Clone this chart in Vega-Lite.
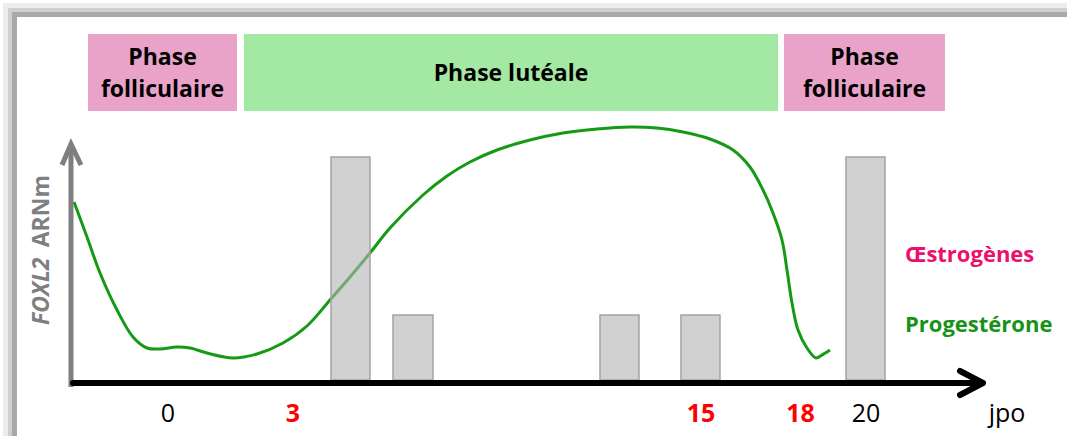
{
  "$schema": "https://vega.github.io/schema/vega-lite/v6.json",
  "width": 1067,
  "height": 436,
  "autosize": {"type": "fit", "contains": "padding"},
  "padding": 0,
  "background": "white",
  "config": {"view": {"stroke": null}, "font": "Open Sans"},
  "resolve": {"scale": {"color": "independent"}},
  "datasets": {
    "frame": [
      {"band": "outer", "left": -5.512, "right": -5.365, "bottom": -27, "top": 189.5},
      {"band": "outer", "left": -5.512, "right": 25.8, "bottom": 187, "top": 189.5},
      {"band": "middle", "left": -5.365, "right": -5.247, "bottom": -27, "top": 187},
      {"band": "middle", "left": -5.365, "right": 25.8, "bottom": 185, "top": 187},
      {"band": "inner", "left": -5.247, "right": -5.1, "bottom": -27, "top": 185},
      {"band": "inner", "left": -5.247, "right": 25.8, "bottom": 182.5, "top": 185}
    ],
    "phases": [
      {"phase": "Phase folliculaire", "kind": "folliculaire", "start": -3.01, "end": 1.374, "top": 174, "bottom": 135.5},
      {"phase": "Phase lutéale", "kind": "lutéale", "start": 1.58, "end": 17.295, "top": 174, "bottom": 135.5},
      {"phase": "Phase folliculaire", "kind": "folliculaire", "start": 17.472, "end": 22.209, "top": 174, "bottom": 135.5}
    ],
    "phaseLabels": [
      {"text": "Phase", "jpo": -0.818, "level": 158.5},
      {"text": "folliculaire", "jpo": -0.818, "level": 142.5},
      {"text": "Phase lutéale", "jpo": 9.438, "level": 150.5},
      {"text": "Phase", "jpo": 19.841, "level": 158.5},
      {"text": "folliculaire", "jpo": 19.841, "level": 142.5}
    ],
    "bars": [
      {"bar": "a", "start": 4.141, "end": 5.288, "level": 112.5},
      {"bar": "b", "start": 5.965, "end": 7.142, "level": 33.5},
      {"bar": "c", "start": 12.057, "end": 13.205, "level": 33.5},
      {"bar": "d", "start": 14.44, "end": 15.588, "level": 33.5},
      {"bar": "e", "start": 19.296, "end": 20.444, "level": 112.5}
    ],
    "curve": [
      {"jpo": -3.422, "foxl2": 90},
      {"jpo": -3.04, "foxl2": 72.5},
      {"jpo": -2.657, "foxl2": 54.5},
      {"jpo": -2.157, "foxl2": 36},
      {"jpo": -1.686, "foxl2": 22.5},
      {"jpo": -1.274, "foxl2": 17},
      {"jpo": -0.892, "foxl2": 16.5},
      {"jpo": -0.391, "foxl2": 17.5},
      {"jpo": -0.009, "foxl2": 17},
      {"jpo": 0.492, "foxl2": 14.5},
      {"jpo": 1.257, "foxl2": 12},
      {"jpo": 1.963, "foxl2": 14},
      {"jpo": 2.728, "foxl2": 19.5},
      {"jpo": 3.434, "foxl2": 28},
      {"jpo": 4.111, "foxl2": 41},
      {"jpo": 4.7, "foxl2": 52.5},
      {"jpo": 5.288, "foxl2": 64.5},
      {"jpo": 5.877, "foxl2": 77},
      {"jpo": 6.848, "foxl2": 93.5},
      {"jpo": 7.554, "foxl2": 103},
      {"jpo": 8.231, "foxl2": 110},
      {"jpo": 9.026, "foxl2": 116},
      {"jpo": 9.997, "foxl2": 121},
      {"jpo": 10.968, "foxl2": 124.5},
      {"jpo": 11.969, "foxl2": 126.5},
      {"jpo": 12.94, "foxl2": 127.5},
      {"jpo": 13.734, "foxl2": 127},
      {"jpo": 14.499, "foxl2": 125},
      {"jpo": 15.294, "foxl2": 121.5},
      {"jpo": 15.971, "foxl2": 116},
      {"jpo": 16.471, "foxl2": 107.5},
      {"jpo": 16.854, "foxl2": 96},
      {"jpo": 17.148, "foxl2": 84.5},
      {"jpo": 17.413, "foxl2": 71},
      {"jpo": 17.56, "foxl2": 56},
      {"jpo": 17.707, "foxl2": 39.5},
      {"jpo": 17.884, "foxl2": 26},
      {"jpo": 18.148, "foxl2": 17},
      {"jpo": 18.413, "foxl2": 12},
      {"jpo": 18.59, "foxl2": 13.5},
      {"jpo": 18.825, "foxl2": 16}
    ],
    "axes": [
      {"axis": "ordinate", "part": "shaft", "step": 0, "jpo": -3.511, "level": -2.5},
      {"axis": "ordinate", "part": "shaft", "step": 1, "jpo": -3.511, "level": 118},
      {"axis": "ordinate", "part": "head", "step": 0, "jpo": -3.775, "level": 108.5},
      {"axis": "ordinate", "part": "head", "step": 1, "jpo": -3.511, "level": 119},
      {"axis": "ordinate", "part": "head", "step": 2, "jpo": -3.216, "level": 108.5},
      {"axis": "abscissa", "part": "shaft", "step": 0, "jpo": -3.452, "level": -0.5},
      {"axis": "abscissa", "part": "shaft", "step": 1, "jpo": 23.24, "level": -0.5},
      {"axis": "abscissa", "part": "head", "step": 0, "jpo": 22.651, "level": 5.5},
      {"axis": "abscissa", "part": "head", "step": 1, "jpo": 23.328, "level": -0.5},
      {"axis": "abscissa", "part": "head", "step": 2, "jpo": 22.651, "level": -6.5}
    ],
    "ticks": [
      {"label": "0", "jpo": -0.656, "level": -20, "highlight": "no"},
      {"label": "3", "jpo": 3.022, "level": -20, "highlight": "yes"},
      {"label": "15", "jpo": 15.029, "level": -20, "highlight": "yes"},
      {"label": "18", "jpo": 17.957, "level": -20, "highlight": "yes"},
      {"label": "20", "jpo": 19.885, "level": -20, "highlight": "no"},
      {"label": "jpo", "jpo": 24.034, "level": -20, "highlight": "no"}
    ],
    "legend": [
      {"hormone": "Œstrogènes", "jpo": 21.032, "level": 60},
      {"hormone": "Progestérone", "jpo": 21.032, "level": 25}
    ],
    "ylabel": [
      {"part": "FOXL2", "jpo": -4.364, "level": 28.5},
      {"part": "ARNm", "jpo": -4.364, "level": 103.5}
    ]
  },
  "layer": [
    {
      "data": {"name": "frame"},
      "mark": {"type": "rect"},
      "encoding": {
        "x": {"field": "left", "type": "quantitative", "scale": {"domain": [-5.6, 25.8], "nice": false, "zero": false}, "axis": null},
        "x2": {"field": "right"},
        "y": {"field": "bottom", "type": "quantitative", "scale": {"domain": [-27, 191], "nice": false, "zero": false}, "axis": null},
        "y2": {"field": "top"},
        "color": {"field": "band", "type": "nominal", "scale": {"domain": ["outer", "middle", "inner"], "range": ["#ececec", "#cfcfcf", "#a8a8a8"]}, "legend": null}
      }
    },
    {
      "data": {"name": "phases"},
      "mark": {"type": "rect"},
      "encoding": {
        "x": {"field": "start", "type": "quantitative", "scale": {"domain": [-5.6, 25.8], "nice": false, "zero": false}, "axis": null},
        "x2": {"field": "end"},
        "y": {"field": "bottom", "type": "quantitative", "scale": {"domain": [-27, 191], "nice": false, "zero": false}, "axis": null},
        "y2": {"field": "top"},
        "color": {"field": "kind", "type": "nominal", "scale": {"domain": ["folliculaire", "lutéale"], "range": ["#eaa3c8", "#a3e9a4"]}, "legend": null}
      }
    },
    {
      "data": {"name": "phaseLabels"},
      "mark": {"type": "text", "font": "Open Sans", "fontWeight": "bold", "fontSize": 23, "align": "center", "baseline": "alphabetic", "color": "#000000"},
      "encoding": {
        "x": {"field": "jpo", "type": "quantitative", "scale": {"domain": [-5.6, 25.8], "nice": false, "zero": false}, "axis": null},
        "y": {"field": "level", "type": "quantitative", "scale": {"domain": [-27, 191], "nice": false, "zero": false}, "axis": null},
        "text": {"field": "text"}
      }
    },
    {
      "data": {"name": "curve"},
      "mark": {"type": "line", "interpolate": "catmull-rom", "color": "#169a16", "strokeWidth": 3},
      "encoding": {
        "x": {"field": "jpo", "type": "quantitative", "scale": {"domain": [-5.6, 25.8], "nice": false, "zero": false}, "axis": null},
        "y": {"field": "foxl2", "type": "quantitative", "scale": {"domain": [-27, 191], "nice": false, "zero": false}, "axis": null}
      }
    },
    {
      "data": {"name": "bars"},
      "mark": {"type": "rect", "fill": "#b3b3b3", "fillOpacity": 0.6, "stroke": "#a3a3a3", "strokeWidth": 1.5},
      "encoding": {
        "x": {"field": "start", "type": "quantitative", "scale": {"domain": [-5.6, 25.8], "nice": false, "zero": false}, "axis": null},
        "x2": {"field": "end"},
        "y": {"field": "level", "type": "quantitative", "scale": {"domain": [-27, 191], "nice": false, "zero": false}, "axis": null},
        "y2": {"datum": 1}
      }
    },
    {
      "data": {"name": "axes"},
      "transform": [{"filter": "datum.axis === 'ordinate'"}],
      "mark": {"type": "line", "color": "#7f7f7f", "strokeWidth": 5, "strokeJoin": "miter", "strokeCap": "butt"},
      "encoding": {
        "x": {"field": "jpo", "type": "quantitative", "scale": {"domain": [-5.6, 25.8], "nice": false, "zero": false}, "axis": null},
        "y": {"field": "level", "type": "quantitative", "scale": {"domain": [-27, 191], "nice": false, "zero": false}, "axis": null},
        "detail": {"field": "part"},
        "order": {"field": "step"}
      }
    },
    {
      "data": {"name": "axes"},
      "transform": [{"filter": "datum.axis === 'abscissa'"}],
      "mark": {"type": "line", "color": "#000000", "strokeWidth": 6, "strokeJoin": "round", "strokeCap": "round"},
      "encoding": {
        "x": {"field": "jpo", "type": "quantitative", "scale": {"domain": [-5.6, 25.8], "nice": false, "zero": false}, "axis": null},
        "y": {"field": "level", "type": "quantitative", "scale": {"domain": [-27, 191], "nice": false, "zero": false}, "axis": null},
        "detail": {"field": "part"},
        "order": {"field": "step"}
      }
    },
    {
      "data": {"name": "ticks"},
      "transform": [{"filter": "datum.highlight === 'yes'"}],
      "mark": {"type": "text", "font": "Open Sans", "fontWeight": "bold", "fontSize": 25, "align": "center", "baseline": "alphabetic", "color": "#ff0000"},
      "encoding": {
        "x": {"field": "jpo", "type": "quantitative", "scale": {"domain": [-5.6, 25.8], "nice": false, "zero": false}, "axis": null},
        "y": {"field": "level", "type": "quantitative", "scale": {"domain": [-27, 191], "nice": false, "zero": false}, "axis": null},
        "text": {"field": "label"}
      }
    },
    {
      "data": {"name": "ticks"},
      "transform": [{"filter": "datum.highlight === 'no'"}],
      "mark": {"type": "text", "font": "Open Sans", "fontWeight": "normal", "fontSize": 25, "align": "center", "baseline": "alphabetic", "color": "#000000"},
      "encoding": {
        "x": {"field": "jpo", "type": "quantitative", "scale": {"domain": [-5.6, 25.8], "nice": false, "zero": false}, "axis": null},
        "y": {"field": "level", "type": "quantitative", "scale": {"domain": [-27, 191], "nice": false, "zero": false}, "axis": null},
        "text": {"field": "label"}
      }
    },
    {
      "data": {"name": "legend"},
      "mark": {"type": "text", "font": "Open Sans", "fontWeight": "bold", "fontSize": 22, "align": "left", "baseline": "alphabetic"},
      "encoding": {
        "x": {"field": "jpo", "type": "quantitative", "scale": {"domain": [-5.6, 25.8], "nice": false, "zero": false}, "axis": null},
        "y": {"field": "level", "type": "quantitative", "scale": {"domain": [-27, 191], "nice": false, "zero": false}, "axis": null},
        "text": {"field": "hormone"},
        "color": {"field": "hormone", "type": "nominal", "scale": {"domain": ["Œstrogènes", "Progestérone"], "range": ["#ec0f6c", "#179317"]}, "legend": null}
      }
    },
    {
      "data": {"name": "ylabel"},
      "transform": [{"filter": "datum.part === 'FOXL2'"}],
      "mark": {"type": "text", "font": "Open Sans", "fontWeight": "bold", "fontStyle": "italic", "fontSize": 23, "angle": 270, "align": "left", "baseline": "middle", "color": "#7f7f7f"},
      "encoding": {
        "x": {"field": "jpo", "type": "quantitative", "scale": {"domain": [-5.6, 25.8], "nice": false, "zero": false}, "axis": null},
        "y": {"field": "level", "type": "quantitative", "scale": {"domain": [-27, 191], "nice": false, "zero": false}, "axis": null},
        "text": {"field": "part"}
      }
    },
    {
      "data": {"name": "ylabel"},
      "transform": [{"filter": "datum.part === 'ARNm'"}],
      "mark": {"type": "text", "font": "Open Sans", "fontWeight": "bold", "fontSize": 23, "angle": 270, "align": "right", "baseline": "middle", "color": "#7f7f7f"},
      "encoding": {
        "x": {"field": "jpo", "type": "quantitative", "scale": {"domain": [-5.6, 25.8], "nice": false, "zero": false}, "axis": null},
        "y": {"field": "level", "type": "quantitative", "scale": {"domain": [-27, 191], "nice": false, "zero": false}, "axis": null},
        "text": {"field": "part"}
      }
    }
  ]
}
